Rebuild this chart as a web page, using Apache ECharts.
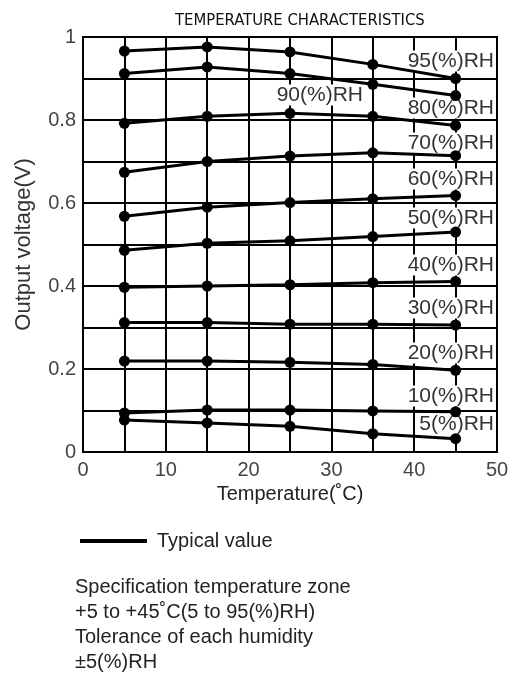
<!DOCTYPE html>
<html>
<head>
<meta charset="utf-8">
<script src="https://cdn.jsdelivr.net/npm/echarts@6/dist/echarts.min.js"></script>
<style>
html,body{margin:0;padding:0;background:#fff;}
#chart{width:519px;height:676px;}
</style>
</head>
<body>
<div id="chart"></div>
<script>
// ---- data ----
var temps = [5, 15, 25, 35, 45];
var rh95 = [0.966, 0.976, 0.964, 0.934, 0.900];
var rh90 = [0.912, 0.928, 0.912, 0.886, 0.859];
var rh80 = [0.792, 0.809, 0.816, 0.809, 0.787];
var rh70 = [0.674, 0.700, 0.713, 0.721, 0.714];
var rh60 = [0.568, 0.590, 0.601, 0.610, 0.618];
var rh50 = [0.486, 0.503, 0.509, 0.519, 0.530];
var rh40 = [0.397, 0.400, 0.403, 0.408, 0.411];
var rh30 = [0.312, 0.312, 0.308, 0.308, 0.306];
var rh20 = [0.219, 0.219, 0.216, 0.211, 0.197];
var rh10 = [0.094, 0.101, 0.101, 0.099, 0.097];
var rh5  = [0.077, 0.070, 0.062, 0.044, 0.032];
var seriesNames = ['95(%)RH','90(%)RH','80(%)RH','70(%)RH','60(%)RH','50(%)RH','40(%)RH','30(%)RH','20(%)RH','10(%)RH','5(%)RH'];
var seriesValues = [rh95, rh90, rh80, rh70, rh60, rh50, rh40, rh30, rh20, rh10, rh5];
var xTickLabels = ['0', '10', '20', '30', '40', '50'];
var yTickLabels = ['0', '0.2', '0.4', '0.6', '0.8', '1'];
var titleText = 'TEMPERATURE CHARACTERISTICS';
var xAxisName = 'Temperature(\u02DAC)';
var yAxisName = 'Output voltage(V)';
var legendText = 'Typical value';
var noteLines = ['Specification temperature zone', '+5 to +45\u02DAC(5 to 95(%)RH)', 'Tolerance of each humidity', '\u00B15(%)RH'];

// ---- layout (pixel positions of in-plot labels: [right x, center y]) ----
var labelPos = [[495, 61], [364, 95], [495, 108], [495, 143], [495, 179], [495, 218], [495, 265], [495, 308], [495, 353], [495, 396], [495, 424]];

var FONT = '"Liberation Sans", Arial, sans-serif';
var chart = echarts.init(document.getElementById('chart'), null, {renderer: 'canvas'});

var series = seriesNames.map(function (name, i) {
  return {
    name: name,
    type: 'line',
    data: temps.map(function (t, j) { return [t, seriesValues[i][j]]; }),
    symbol: 'circle',
    symbolSize: 11,
    showSymbol: true,
    lineStyle: {color: '#000', width: 3},
    itemStyle: {color: '#000'},
    z: 3,
    animation: false
  };
});

var graphics = [];
seriesNames.forEach(function (name, i) {
  graphics.push({
    type: 'text',
    x: labelPos[i][0],
    y: labelPos[i][1],
    z: 1,
    style: {
      text: name,
      font: '21px ' + FONT,
      fill: '#333',
      align: 'right',
      verticalAlign: 'middle',
      backgroundColor: '#fff',
      padding: [0, 1, 0, 1]
    }
  });
});
// legend sample line + text
graphics.push({
  type: 'line', z: 1,
  shape: {x1: 80, y1: 541, x2: 147, y2: 541},
  style: {stroke: '#000', lineWidth: 4}
});
graphics.push({
  type: 'text', x: 157, y: 541, z: 1,
  style: {text: legendText, font: '20px ' + FONT, fill: '#222', align: 'left', verticalAlign: 'middle'}
});
// notes
noteLines.forEach(function (line, i) {
  graphics.push({
    type: 'text', x: 75, y: 587 + i * 25.3, z: 1,
    style: {text: line, font: '20px ' + FONT, fill: '#222', align: 'left', verticalAlign: 'middle'}
  });
});

var option = {
  backgroundColor: '#fff',
  animation: false,
  title: {
    text: titleText,
    left: 170,
    top: 7,
    textStyle: {fontFamily: '"Liberation Sans Narrow", "DejaVu Sans Condensed", sans-serif', fontSize: 16.5, fontWeight: 'normal', color: '#111'}
  },
  grid: {
    left: 83, right: 22, top: 37, bottom: 224,
    show: true, borderColor: '#000', borderWidth: 2, containLabel: false
  },
  xAxis: {
    type: 'value', min: 0, max: 50, interval: 5,
    name: xAxisName, nameLocation: 'middle', nameGap: 31,
    nameTextStyle: {fontFamily: FONT, fontSize: 20, color: '#222'},
    axisLine: {show: true, lineStyle: {color: '#000', width: 2}},
    axisTick: {show: false},
    splitLine: {show: true, lineStyle: {color: '#000', width: 2}},
    axisLabel: {
      fontFamily: FONT, fontSize: 20, color: '#444', margin: 8,
      formatter: function (v) {
        var k = Math.round(v / 10);
        return (Math.abs(v - k * 10) < 1e-6) ? xTickLabels[k] : '';
      }
    }
  },
  yAxis: {
    type: 'value', min: 0, max: 1, interval: 0.1,
    name: yAxisName, nameLocation: 'middle', nameGap: 48, nameRotate: 90,
    nameTextStyle: {fontFamily: FONT, fontSize: 22, color: '#333'},
    axisLine: {show: true, lineStyle: {color: '#000', width: 2}},
    axisTick: {show: false},
    splitLine: {show: true, lineStyle: {color: '#000', width: 2}},
    axisLabel: {
      fontFamily: FONT, fontSize: 20, color: '#444', margin: 7,
      formatter: function (v) {
        var k = Math.round(v * 10);
        return (k % 2 === 0) ? yTickLabels[k / 2] : '';
      }
    }
  },
  graphic: {elements: graphics},
  series: series
};
chart.setOption(option);
</script>
</body>
</html>
